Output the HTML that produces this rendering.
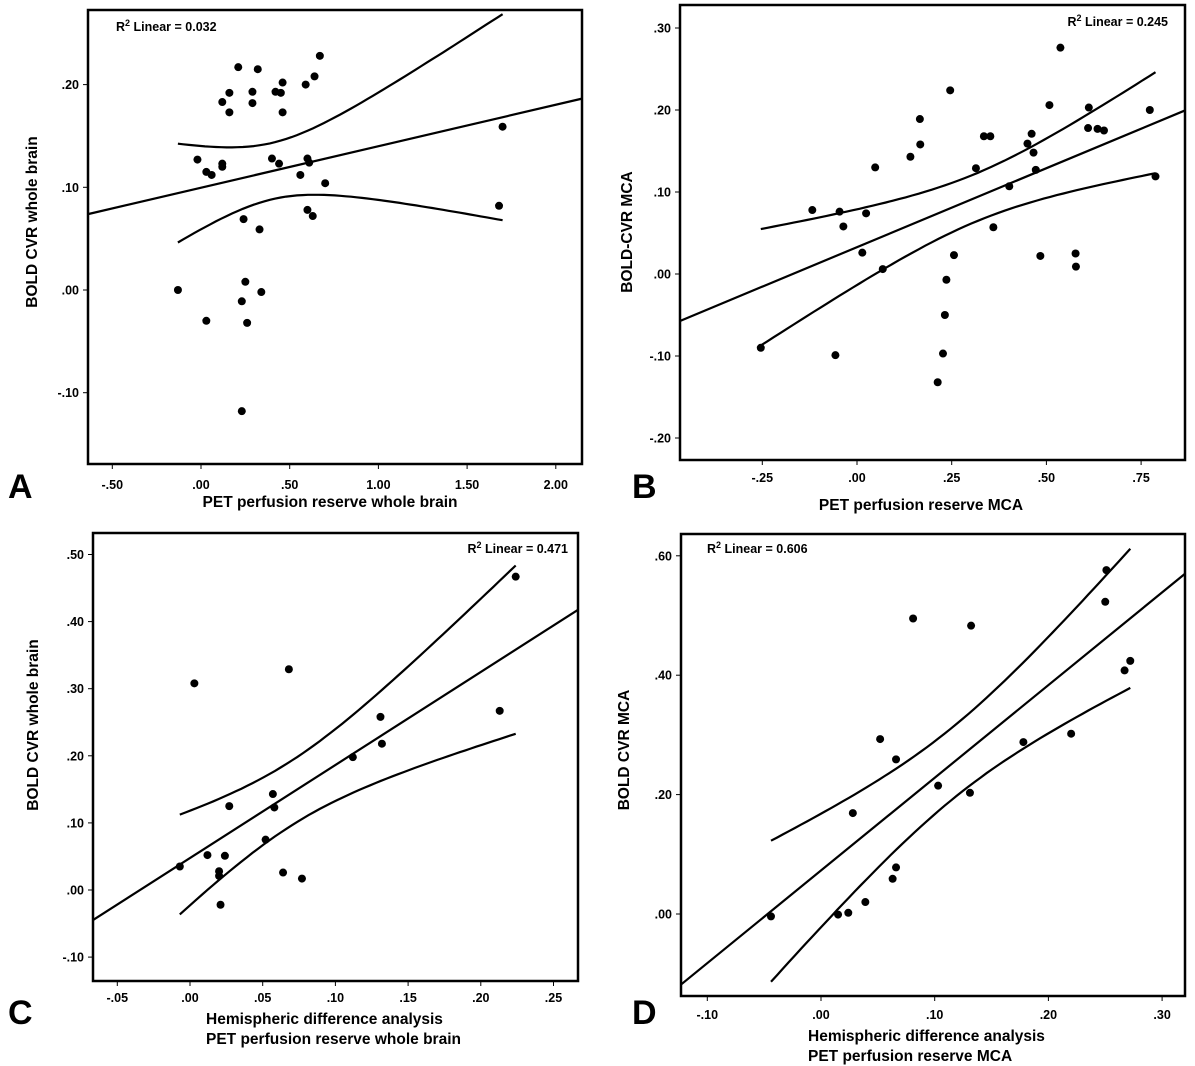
<!DOCTYPE html>
<html><head><meta charset="utf-8">
<style>
html,body{margin:0;padding:0;background:#fff;}
svg{display:block;font-family:"Liberation Sans",Arial,sans-serif;}
</style></head>
<body>
<svg id="chart" width="1195" height="1066" viewBox="0 0 1195 1066"></svg>
<script>
// ---- Panel A data ----
const aX = [-0.13,-0.02,0.03,0.06,0.12,0.12,0.03,0.12,0.16,0.16,0.21,0.29,0.29,0.32,0.42,0.45,0.46,0.46,0.40,0.44,0.59,0.64,0.67,0.60,0.61,0.56,0.70,0.60,0.63,0.24,0.33,0.25,0.34,0.23,0.26,0.23,1.70,1.68];
const aY = [0.000,0.127,0.115,0.112,0.123,0.120,-0.030,0.183,0.192,0.173,0.217,0.193,0.182,0.215,0.193,0.192,0.202,0.173,0.128,0.123,0.200,0.208,0.228,0.128,0.124,0.112,0.104,0.078,0.072,0.069,0.059,0.008,-0.002,-0.011,-0.032,-0.118,0.159,0.082];
const aXTicks = [-0.5,0,0.5,1,1.5,2];
const aXTickLabels = ["-.50",".00",".50","1.00","1.50","2.00"];
const aYTicks = [-0.1,0,0.1,0.2];
const aYTickLabels = ["-.10",".00",".10",".20"];
// ---- Panel B data ----
const bX = [-0.254,-0.118,-0.046,-0.036,0.014,0.024,0.048,0.068,-0.057,0.141,0.166,0.167,0.246,0.256,0.236,0.232,0.227,0.213,0.314,0.335,0.352,0.360,0.402,0.450,0.461,0.466,0.472,0.484,0.508,0.537,0.577,0.578,0.612,0.610,0.635,0.652,0.773,0.788];
const bY = [-0.090,0.078,0.076,0.058,0.026,0.074,0.130,0.006,-0.099,0.143,0.189,0.158,0.224,0.023,-0.007,-0.050,-0.097,-0.132,0.129,0.168,0.168,0.057,0.107,0.159,0.171,0.148,0.127,0.022,0.206,0.276,0.025,0.009,0.203,0.178,0.177,0.175,0.200,0.119];
const bXTicks = [-0.25,0,0.25,0.5,0.75];
const bXTickLabels = ["-.25",".00",".25",".50",".75"];
const bYTicks = [-0.2,-0.1,0,0.1,0.2,0.3];
const bYTickLabels = ["-.20","-.10",".00",".10",".20",".30"];
// ---- Panel C data ----
const cX = [-0.007,0.003,0.012,0.024,0.020,0.020,0.021,0.027,0.052,0.057,0.058,0.064,0.068,0.077,0.112,0.131,0.132,0.213,0.224];
const cY = [0.035,0.308,0.052,0.051,0.028,0.021,-0.022,0.125,0.075,0.143,0.123,0.026,0.329,0.017,0.198,0.258,0.218,0.267,0.467];
const cXTicks = [-0.05,0,0.05,0.1,0.15,0.2,0.25];
const cXTickLabels = ["-.05",".00",".05",".10",".15",".20",".25"];
const cYTicks = [-0.1,0,0.1,0.2,0.3,0.4,0.5];
const cYTickLabels = ["-.10",".00",".10",".20",".30",".40",".50"];
// ---- Panel D data ----
const dX = [-0.044,0.015,0.024,0.039,0.052,0.028,0.066,0.063,0.066,0.081,0.103,0.131,0.132,0.178,0.220,0.251,0.250,0.267,0.272];
const dY = [-0.004,-0.001,0.002,0.020,0.293,0.169,0.259,0.059,0.078,0.495,0.215,0.203,0.483,0.288,0.302,0.576,0.523,0.408,0.424];
const dXTicks = [-0.1,0,0.1,0.2,0.3];
const dXTickLabels = ["-.10",".00",".10",".20",".30"];
const dYTicks = [0,0.2,0.4,0.6];
const dYTickLabels = [".00",".20",".40",".60"];

const NS = "http://www.w3.org/2000/svg";
const svg = document.getElementById('chart');
function mk(tag, attrs, parent){
  const e = document.createElementNS(NS, tag);
  for (const k in attrs) e.setAttribute(k, attrs[k]);
  (parent||svg).appendChild(e);
  return e;
}

function panel(cfg){
  const g = mk('g', {});
  
  
  const sx = v => cfg.x0 + v * cfg.xs;
  const sy = v => cfg.y0 - v * cfg.ys;
  const L = cfg.box[0], T = cfg.box[1], R = cfg.box[2], B = cfg.box[3];
  const vxMin = (L - cfg.x0) / cfg.xs, vxMax = (R - cfg.x0) / cfg.xs;

  const fr = mk('rect', {x:L, y:T, width:R-L, height:B-T, fill:'none', stroke:'#000', 'stroke-width':2.5}, g);
  
  

  cfg.xt.forEach((v,i)=>{
    const px = sx(v);
    mk('line', {x1:px, x2:px, y1:B, y2:B+5, stroke:'#000', 'stroke-width':1}, g);
    const t = mk('text', {x:px, y:cfg.xLabY, 'text-anchor':'middle', 'font-size':12.5, 'font-weight':'bold', fill:'#000'}, g);
    t.textContent = cfg.xtl[i];
    
    
  });
  cfg.yt.forEach((v,i)=>{
    const py = sy(v);
    mk('line', {x1:L-5, x2:L, y1:py, y2:py, stroke:'#000', 'stroke-width':1}, g);
    const t = mk('text', {x:L-9, y:py+4.5, 'text-anchor':'end', 'font-size':12.5, 'font-weight':'bold', fill:'#000'}, g);
    t.textContent = cfg.ytl[i];
    
    
  });

  const X = cfg.xs_data, Y = cfg.ys_data, n = X.length;
  let mx=0,my=0; for(let i=0;i<n;i++){mx+=X[i];my+=Y[i];} mx/=n; my/=n;
  let sxx=0,sxy=0; for(let i=0;i<n;i++){sxx+=(X[i]-mx)**2; sxy+=(X[i]-mx)*(Y[i]-my);}
  const b = sxy/sxx, a = my - b*mx;
  let sse=0; for(let i=0;i<n;i++){sse+=(Y[i]-a-b*X[i])**2;}
  const s = Math.sqrt(sse/(n-2));
  const tval = 1.96 + 2.4/(n-2);
  const fitLine = mk('line', {x1:L, y1:sy(a+b*vxMin), x2:R, y2:sy(a+b*vxMax), stroke:'#000', 'stroke-width':2.2}, g);
  
  
  const xmin = Math.min(...X), xmax = Math.max(...X);
  let up='', lo='';
  for(let k=0;k<=60;k++){
    const x = xmin + (xmax-xmin)*k/60;
    const hw = tval*s*Math.sqrt(1/n + (x-mx)**2/sxx);
    const f = a+b*x;
    up += (k?'L':'M') + sx(x).toFixed(1) + ',' + sy(f+hw).toFixed(1);
    lo += (k?'L':'M') + sx(x).toFixed(1) + ',' + sy(f-hw).toFixed(1);
  }
  const cu = mk('path', {d:up, fill:'none', stroke:'#000', 'stroke-width':2.2}, g);
  
  
  const cl = mk('path', {d:lo, fill:'none', stroke:'#000', 'stroke-width':2.2}, g);
  
  

  for(let i=0;i<n;i++){
    const c = mk('circle', {cx:sx(X[i]), cy:sy(Y[i]), r:4, fill:'#000'}, g);
    
    
  }

  const r2 = mk('text', {x:cfg.r2[0], y:cfg.r2[1], 'text-anchor':cfg.r2[2], 'font-size':12.5, 'font-weight':'bold', fill:'#000'}, g);
  r2.innerHTML = 'R<tspan dy="-5" font-size="9">2</tspan><tspan dy="5"> Linear = ' + cfg.r2txt + '</tspan>';
  
  

  cfg.xTitle.forEach((tl,i)=>{
    const t = mk('text', {x:tl[1], y:tl[2], 'text-anchor':tl[3], 'font-size':15.5, 'font-weight':'bold', fill:'#000'}, g);
    t.textContent = tl[0];
    
    
  });
  const yt = mk('text', {x:0, y:0, 'text-anchor':'middle', 'font-size':15.5, 'font-weight':'bold', fill:'#000', transform:'translate(' + cfg.yTitle[1] + ',' + cfg.yTitle[2] + ') rotate(-90)'}, g);
  yt.textContent = cfg.yTitle[0];
  
  

  const pl = mk('text', {x:cfg.letter[0], y:cfg.letter[1], 'font-size':34, 'font-weight':'bold', fill:'#000'}, g);
  pl.textContent = cfg.id.toUpperCase();
  
  
}

panel({id:'a', box:[88,10,582,464], x0:201, xs:177.4, y0:290, ys:1027,
  xt:aXTicks, xtl:aXTickLabels, yt:aYTicks, ytl:aYTickLabels, xs_data:aX, ys_data:aY,
  xLabY:489, r2:[116,31,'start'], r2txt:'0.032',
  xTitle:[['PET perfusion reserve whole brain',330,507,'middle']],
  yTitle:['BOLD CVR whole brain',37,222], letter:[8,498]});
panel({id:'b', box:[680,5,1185,460], x0:857, xs:378.8, y0:274, ys:820,
  xt:bXTicks, xtl:bXTickLabels, yt:bYTicks, ytl:bYTickLabels, xs_data:bX, ys_data:bY,
  xLabY:482, r2:[1168,26,'end'], r2txt:'0.245',
  xTitle:[['PET perfusion reserve MCA',921,510,'middle']],
  yTitle:['BOLD-CVR MCA',632,232], letter:[632,498]});
panel({id:'c', box:[93,533,578,981], x0:190, xs:1454, y0:890, ys:671,
  xt:cXTicks, xtl:cXTickLabels, yt:cYTicks, ytl:cYTickLabels, xs_data:cX, ys_data:cY,
  xLabY:1002, r2:[568,553,'end'], r2txt:'0.471',
  xTitle:[['Hemispheric difference analysis',206,1024,'start'],['PET perfusion reserve whole brain',206,1044,'start']],
  yTitle:['BOLD CVR whole brain',38,725], letter:[8,1024]});
panel({id:'d', box:[681,534,1185,996], x0:821, xs:1137, y0:914, ys:597,
  xt:dXTicks, xtl:dXTickLabels, yt:dYTicks, ytl:dYTickLabels, xs_data:dX, ys_data:dY,
  xLabY:1019, r2:[707,553,'start'], r2txt:'0.606',
  xTitle:[['Hemispheric difference analysis',808,1041,'start'],['PET perfusion reserve MCA',808,1061,'start']],
  yTitle:['BOLD CVR MCA',629,750], letter:[632,1024]});
</script>
</body></html>
